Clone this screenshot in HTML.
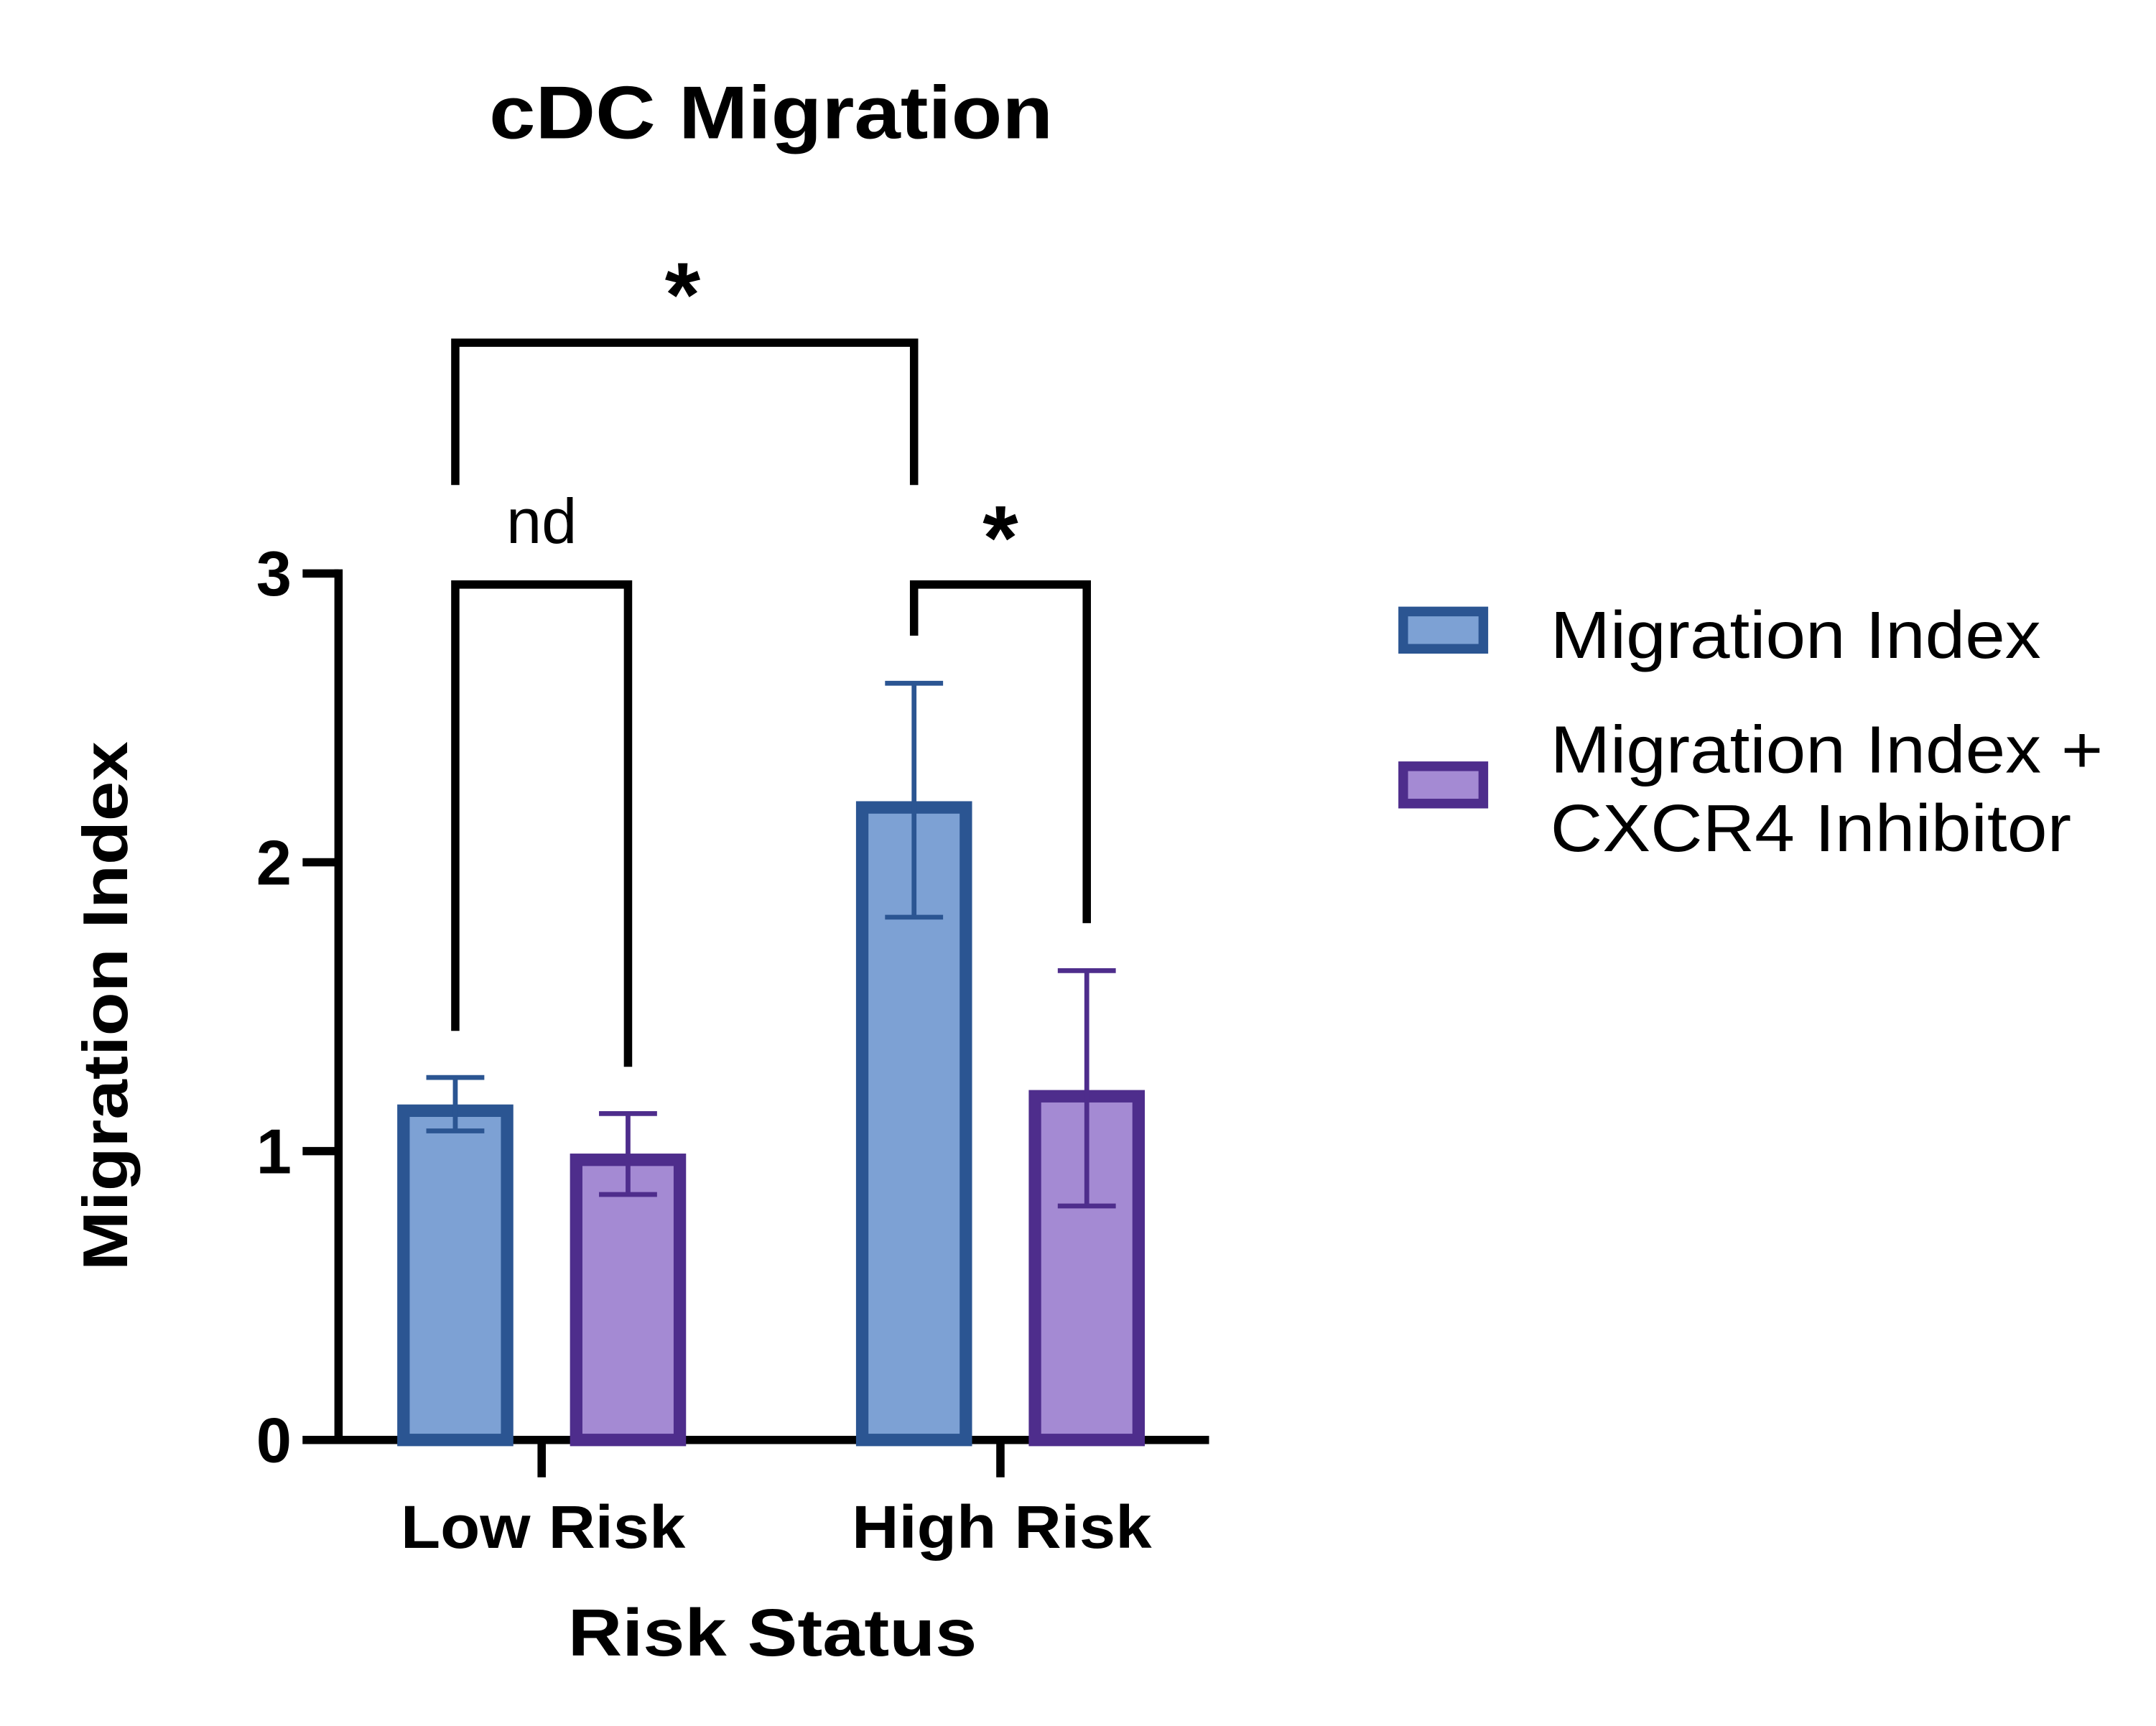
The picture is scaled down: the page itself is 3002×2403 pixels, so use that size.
<!DOCTYPE html>
<html><head><meta charset="utf-8"><style>
html,body{margin:0;padding:0;background:#fff;}
svg{display:block;}
text{font-family:"Liberation Sans",Arial,sans-serif;fill:#000;}
</style></head>
<body>
<svg id="chart" width="3002" height="2403" viewBox="0 0 1560.3 1249" preserveAspectRatio="none" xmlns="http://www.w3.org/2000/svg">
<text x="558" y="100" font-size="54" font-weight="bold" text-anchor="middle" textLength="408" lengthAdjust="spacingAndGlyphs">cDC Migration</text>
<text transform="translate(92,728) rotate(-90)" font-size="46" font-weight="bold" text-anchor="middle" textLength="383" lengthAdjust="spacingAndGlyphs">Migration Index</text>
<text x="559" y="1198" font-size="48" font-weight="bold" text-anchor="middle" textLength="296" lengthAdjust="spacingAndGlyphs">Risk  Status</text>
<g id="axes"></g>
<g id="bars"></g>
<g id="sig"></g>
<g id="legend"></g>
</svg>
<script>
const categories = ["Low Risk", "High Risk"];
const seriesNames = ["Migration Index", "Migration Index + CXCR4 Inhibitor"];
const migrationMean = [1.14, 2.19];
const migrationLow = [1.07, 1.81];
const migrationHigh = [1.255, 2.62];
const inhibitorMean = [0.97, 1.19];
const inhibitorLow = [0.85, 0.81];
const inhibitorHigh = [1.13, 1.625];
const yTicks = [0, 1, 2, 3];
const yTickLabels = ["0", "1", "2", "3"];

const NS = "http://www.w3.org/2000/svg";
const Y0 = 1042, UNIT = 209;
function yScale(v){ return Y0 - v * UNIT; }
const catCenters = [392, 724];
function xCat(i){ return catCenters[0] + i * (catCenters[1] - catCenters[0]); }
const OFFSET = 62.5, BARW = 75, STROKE = 9;
function mk(tag, attrs, parent){
  const e = document.createElementNS(NS, tag);
  for (const k in attrs) e.setAttribute(k, attrs[k]);
  parent.appendChild(e); return e;
}
const axes = document.getElementById('axes');
const bars = document.getElementById('bars');
const sig = document.getElementById('sig');
const legend = document.getElementById('legend');

let yl = mk('line', {x1:245, y1:yScale(3)-3, x2:245, y2:Y0+3, stroke:'#000','stroke-width':6}, axes);


yTicks.forEach((t, i) => {
  const tk = mk('line', {x1:219, y1:yScale(t), x2:245, y2:yScale(t), stroke:'#000','stroke-width':6}, axes);
  
  
  const tl = mk('text', {x:211, y:yScale(t)+16, 'font-size':46, 'font-weight':'bold', 'text-anchor':'end'}, axes);
  tl.textContent = yTickLabels[i];
  
  
});
let xl = mk('line', {x1:219, y1:Y0, x2:875, y2:Y0, stroke:'#000','stroke-width':6}, axes);


const catW = [206, 217];
categories.forEach((c, i) => {
  const tk = mk('line', {x1:xCat(i), y1:Y0, x2:xCat(i), y2:1069, stroke:'#000','stroke-width':6}, axes);
  
  
  const tl = mk('text', {x:xCat(i)+1, y:1120, 'font-size':44, 'font-weight':'bold', 'text-anchor':'middle', textLength:catW[i], lengthAdjust:'spacingAndGlyphs'}, axes);
  tl.textContent = c;
  
  
});

const series = [
  {mean:migrationMean, lo:migrationLow, hi:migrationHigh, fill:'#7DA1D4', stroke:'#2B5592', off:-OFFSET, name:'migration-bar'},
  {mean:inhibitorMean, lo:inhibitorLow, hi:inhibitorHigh, fill:'#A48AD3', stroke:'#4E2D8C', off:OFFSET, name:'inhibitor-bar'}
];
series.forEach(s => {
  s.mean.forEach((v, i) => {
    const cx = xCat(i) + s.off;
    const r = mk('rect', {x:cx-BARW/2, y:yScale(v), width:BARW, height:Y0-yScale(v), fill:s.fill, stroke:s.stroke, 'stroke-width':STROKE}, bars);
    
    
    const eb = mk('path', {d:`M${cx} ${yScale(s.lo[i])}V${yScale(s.hi[i])}M${cx-21} ${yScale(s.hi[i])}H${cx+21}M${cx-21} ${yScale(s.lo[i])}H${cx+21}`, stroke:s.stroke, 'stroke-width':3.5, fill:'none'}, bars);
    
    
  });
});

function bracket(x1, x2, yTop, yL, yR, label, lx, ly, size, bold, name){
  const p = mk('path', {d:`M${x1} ${yL}V${yTop}H${x2}V${yR}`, stroke:'#000', 'stroke-width':6, fill:'none'}, sig);
  
  
  const t = mk('text', {x:lx, y:ly, 'font-size':size, 'font-weight':bold?'bold':'normal', 'text-anchor':'middle'}, sig);
  t.textContent = label;
  
  
}
const lb = xCat(0)-OFFSET, lp = xCat(0)+OFFSET, hb = xCat(1)-OFFSET, hp = xCat(1)+OFFSET;
bracket(lb, lp, 423, 746, 772, 'nd', 392, 393, 46, false, 'nd-bracket');
bracket(hb, hp, 423, 460, 668, '*', 724, 412, 66, true, 'high-risk-star-bracket');
bracket(lb, hb, 248, 351, 351, '*', 494, 236, 66, true, 'risk-star-bracket');

const legItems = [
  {fill:'#7DA1D4', stroke:'#2B5592', y:439, lines:['Migration Index'], ty:[476], w:[355]},
  {fill:'#A48AD3', stroke:'#4E2D8C', y:551, lines:['Migration Index +', 'CXCR4 Inhibitor'], ty:[559, 616], w:[400, 377]}
];
legItems.forEach((it, k) => {
  const r = mk('rect', {x:1015.5, y:it.y+3.5, width:58, height:27, fill:it.fill, stroke:it.stroke, 'stroke-width':7}, legend);
  
  
  it.lines.forEach((ln, j) => {
    const t = mk('text', {x:1122, y:it.ty[j], 'font-size':48, textLength:it.w[j], lengthAdjust:'spacingAndGlyphs'}, legend);
    t.textContent = ln;
    
    
  });
});
</script>
</body></html>
